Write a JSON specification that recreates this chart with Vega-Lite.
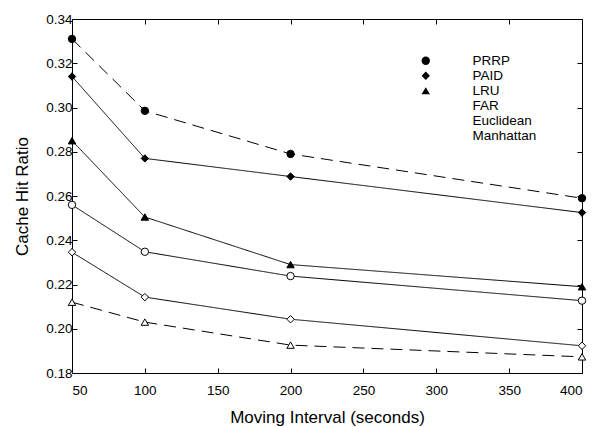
{
  "$schema": "https://vega.github.io/schema/vega-lite/v6.json",
  "width": 510,
  "height": 354,
  "autosize": {"type": "none"},
  "padding": {"left": 72, "top": 19, "right": 12, "bottom": 54},
  "background": "white",
  "config": {
    "view": {"stroke": "black", "strokeWidth": 1},
    "font": "Liberation Sans",
    "axis": {
      "grid": false,
      "domainColor": "black",
      "tickColor": "black",
      "labelColor": "black",
      "titleColor": "black",
      "labelFont": "Liberation Sans",
      "titleFont": "Liberation Sans",
      "labelFontSize": 13.5,
      "titleFontSize": 17,
      "titleFontWeight": "normal",
      "tickSize": -5
    }
  },
  "data": {
    "values": [
      {"series": "PRRP", "interval": 50, "ratio": 0.331},
      {"series": "PRRP", "interval": 100, "ratio": 0.2985},
      {"series": "PRRP", "interval": 200, "ratio": 0.279},
      {"series": "PRRP", "interval": 400, "ratio": 0.259},
      {"series": "PAID", "interval": 50, "ratio": 0.314},
      {"series": "PAID", "interval": 100, "ratio": 0.277},
      {"series": "PAID", "interval": 200, "ratio": 0.2688},
      {"series": "PAID", "interval": 400, "ratio": 0.2525},
      {"series": "LRU", "interval": 50, "ratio": 0.285},
      {"series": "LRU", "interval": 100, "ratio": 0.2505},
      {"series": "LRU", "interval": 200, "ratio": 0.229},
      {"series": "LRU", "interval": 400, "ratio": 0.219},
      {"series": "FAR", "interval": 50, "ratio": 0.256},
      {"series": "FAR", "interval": 100, "ratio": 0.2348},
      {"series": "FAR", "interval": 200, "ratio": 0.2238},
      {"series": "FAR", "interval": 400, "ratio": 0.2127},
      {"series": "Euclidean", "interval": 50, "ratio": 0.2346},
      {"series": "Euclidean", "interval": 100, "ratio": 0.2143},
      {"series": "Euclidean", "interval": 200, "ratio": 0.2043},
      {"series": "Euclidean", "interval": 400, "ratio": 0.1923},
      {"series": "Manhattan", "interval": 50, "ratio": 0.212},
      {"series": "Manhattan", "interval": 100, "ratio": 0.203},
      {"series": "Manhattan", "interval": 200, "ratio": 0.1926},
      {"series": "Manhattan", "interval": 400, "ratio": 0.1873}
    ]
  },
  "resolve": {"axis": {"x": "independent", "y": "independent"}},
  "layer": [
    {
      "mark": {"type": "line", "stroke": "black", "strokeWidth": 1},
      "encoding": {
        "x": {
          "field": "interval",
          "type": "quantitative",
          "scale": {"domain": [50, 400], "nice": false, "zero": false},
          "axis": {
            "orient": "bottom",
            "values": [50, 100, 150, 200, 250, 300, 350, 400],
            "title": "Moving Interval (seconds)",
            "labelPadding": 15,
            "titlePadding": 13
          }
        },
        "y": {
          "field": "ratio",
          "type": "quantitative",
          "scale": {"domain": [0.18, 0.34], "nice": false, "zero": false},
          "axis": {
            "orient": "left",
            "values": [0.18, 0.2, 0.22, 0.24, 0.26, 0.28, 0.3, 0.32, 0.34],
            "format": ".2f",
            "title": "Cache Hit Ratio",
            "labelPadding": 5,
            "titlePadding": 14
          }
        },
        "detail": {"field": "series", "type": "nominal"},
        "strokeDash": {
          "condition": {"test": "datum.series === 'PRRP' || datum.series === 'Manhattan'", "value": [12, 7]},
          "value": [1, 0]
        },
        "order": {"field": "interval"}
      }
    },
    {
      "mark": {"type": "point", "stroke": "black", "strokeWidth": 1, "opacity": 1, "size": 55},
      "encoding": {
        "x": {
          "field": "interval",
          "type": "quantitative",
          "axis": {
            "orient": "top",
            "values": [50, 100, 150, 200, 250, 300, 350, 400],
            "labels": false,
            "title": null,
            "domain": false
          }
        },
        "y": {
          "field": "ratio",
          "type": "quantitative",
          "axis": {
            "orient": "right",
            "values": [0.18, 0.2, 0.22, 0.24, 0.26, 0.28, 0.3, 0.32, 0.34],
            "labels": false,
            "title": null,
            "domain": false
          }
        },
        "fill": {
          "field": "series",
          "type": "nominal",
          "scale": {
            "domain": ["PRRP", "PAID", "LRU", "FAR", "Euclidean", "Manhattan"],
            "range": ["black", "black", "black", "white", "white", "white"]
          }
        },
        "shape": {
          "field": "series",
          "type": "nominal",
          "scale": {
            "domain": ["PRRP", "PAID", "LRU", "FAR", "Euclidean", "Manhattan"],
            "range": ["circle", "diamond", "triangle-up", "circle", "diamond", "triangle-up"]
          },
          "legend": {
            "title": null,
            "orient": "none",
            "legendX": 347,
            "legendY": 35,
            "padding": 0,
            "symbolSize": 70,
            "symbolStrokeColor": "black",
            "symbolStrokeWidth": 1,
            "labelFont": "Liberation Sans",
            "labelFontSize": 13.5,
            "labelColor": "black",
            "labelOffset": 40,
            "rowPadding": 0
          }
        }
      }
    }
  ]
}
